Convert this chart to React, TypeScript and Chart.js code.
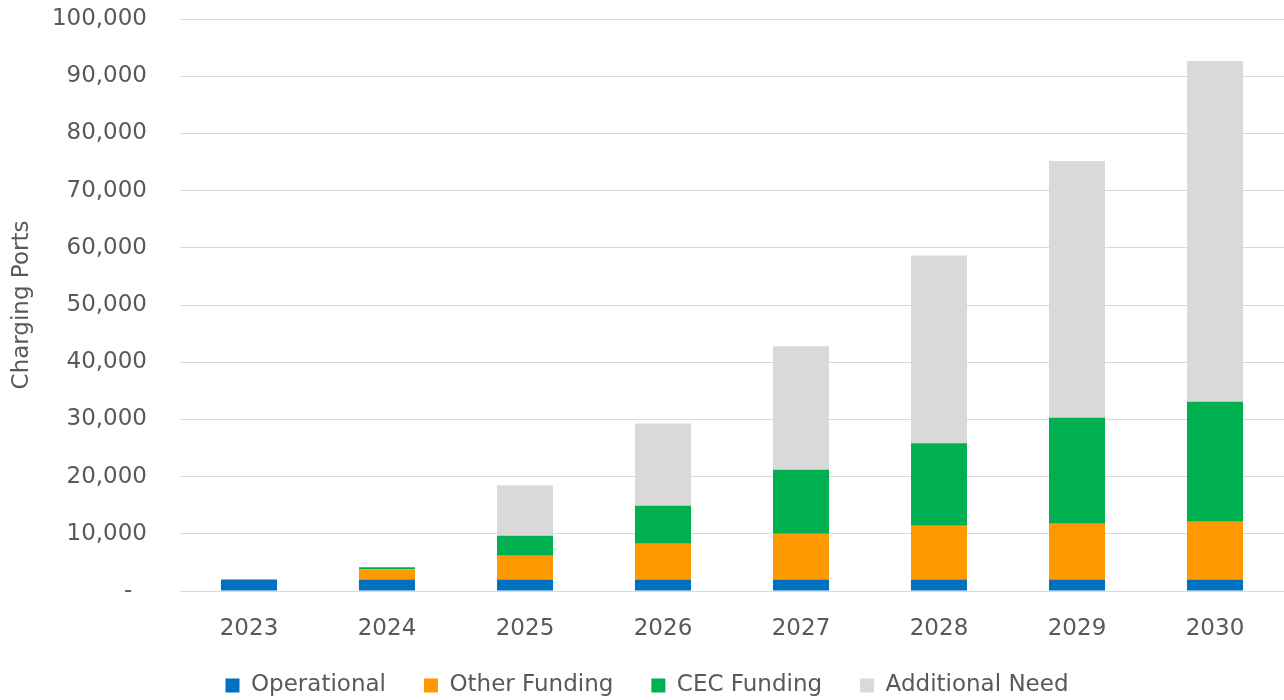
import React, { useEffect, useRef } from "react";
import { Chart, registerables } from "chart.js";

Chart.register(...registerables);

const years = ["2023", "2024", "2025", "2026", "2027", "2028", "2029", "2030"];
const operational = [2000, 2000, 2000, 2000, 2000, 2000, 2000, 2000];
const otherFunding = [0, 1800, 4170, 6270, 8020, 9420, 9770, 10120];
const cecFunding = [0, 350, 3500, 6640, 11190, 14400, 18530, 20980];
const additionalNeed = [0, 0, 8810, 14390, 21600, 32830, 44870, 59560];

const seriesNames = ["Operational", "Other Funding", "CEC Funding", "Additional Need"];
const seriesColors = ["#0070C0", "#FF9900", "#00B050", "#D9D9D9"];

const TEXT = "#595959";
const FONT = "'DejaVu Sans', Verdana, sans-serif";
const FS = 23;

const layoutTweak = {
  id: "layoutTweak",
  afterLayout(chart: any) {
    const x = chart.scales.x;
    if (x) x.bottom = chart.height;
    const lg = chart.legend;
    if (lg) {
      lg.top += 7;
      lg.bottom += 7;
      lg.left += 5;
      lg.right += 5;
    }
  },
};

export default function App() {
  const ref = useRef<HTMLCanvasElement>(null);

  useEffect(() => {
    document.body.style.margin = "0";
    const canvas = ref.current;
    if (!canvas) return;
    const values = [operational, otherFunding, cecFunding, additionalNeed];
    const chart = new Chart(canvas, {
      type: "bar",
      data: {
        labels: years,
        datasets: seriesNames.map((name, i) => ({
          label: name,
          data: values[i],
          backgroundColor: seriesColors[i],
          borderWidth: 0,
          barPercentage: 0.406,
          categoryPercentage: 1,
        })),
      },
      plugins: [layoutTweak],
      options: {
        responsive: false,
        animation: false,
        maintainAspectRatio: false,
        layout: { padding: 0 },
        plugins: {
          tooltip: { enabled: false },
          legend: {
            position: "bottom",
            labels: {
              color: TEXT,
              font: { family: FONT, size: FS },
              boxWidth: 14,
              boxHeight: 14,
              padding: 38,
            },
          },
        },
        scales: {
          x: {
            stacked: true,
            grid: { display: false, drawTicks: false },
            border: { display: true, color: "#d9d9d9", width: 1 },
            ticks: {
              color: TEXT,
              font: { family: FONT, size: FS },
              padding: 24,
            },
            afterFit: (scale: any) => {
              scale.height = 38;
            },
          },
          y: {
            stacked: true,
            min: 0,
            max: 100000,
            grid: { color: "#d9d9d9", lineWidth: 1, drawTicks: false },
            border: { display: false },
            ticks: {
              stepSize: 10000,
              color: TEXT,
              font: { family: FONT, size: FS },
              padding: 33,
              callback: (v: any) =>
                Number(v) === 0 ? "-  " : Number(v).toLocaleString("en-US"),
            },
            title: {
              display: true,
              text: "Charging Ports",
              color: TEXT,
              font: { family: FONT, size: FS },
              padding: { top: 8, bottom: 0 },
            },
            afterFit: (scale: any) => {
              scale.width = 180;
              scale.paddingTop = 19;
              scale.paddingBottom = 0;
            },
          },
        },
      },
    });
    return () => chart.destroy();
  }, []);

  return (
    <div style={{ width: 1284, height: 700 }}>
      <canvas ref={ref} width={1284} height={700} style={{ display: "block" }} />
    </div>
  );
}
